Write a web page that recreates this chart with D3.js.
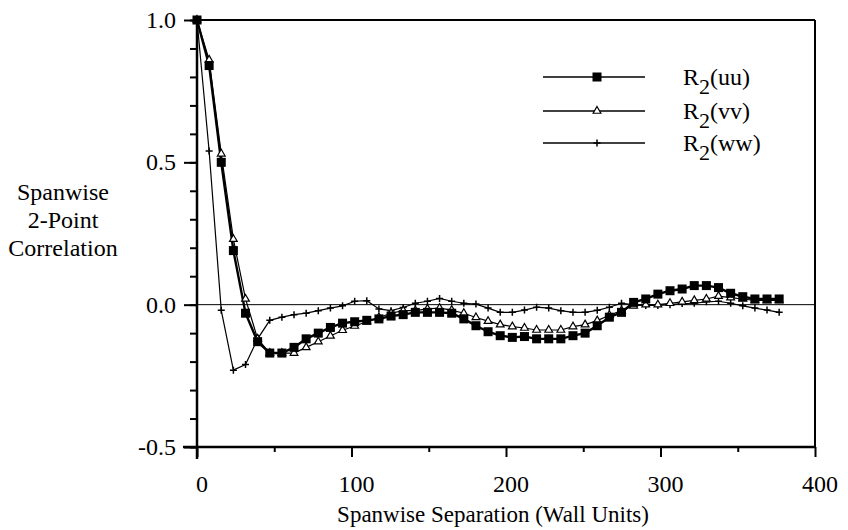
<!DOCTYPE html>
<html><head><meta charset="utf-8">
<script src="https://cdn.jsdelivr.net/npm/d3@7"></script>
</head><body style="margin:0">
<svg id="c" width="848" height="530" font-family="Liberation Serif"></svg>
<script>
const dz = 7.85;
const uu = [1.0,0.84,0.50,0.19,-0.03,-0.13,-0.17,-0.17,-0.15,-0.12,-0.10,-0.08,-0.065,-0.06,-0.055,-0.05,-0.04,-0.035,-0.027,-0.027,-0.027,-0.03,-0.05,-0.074,-0.095,-0.109,-0.115,-0.112,-0.12,-0.12,-0.12,-0.109,-0.10,-0.074,-0.044,-0.027,0.008,0.02,0.037,0.049,0.055,0.067,0.067,0.06,0.04,0.028,0.02,0.02,0.02];
const vv = [1.0,0.86,0.53,0.23,0.02,-0.12,-0.17,-0.17,-0.17,-0.15,-0.13,-0.11,-0.09,-0.075,-0.06,-0.045,-0.03,-0.021,-0.021,-0.015,-0.012,-0.019,-0.03,-0.045,-0.058,-0.07,-0.077,-0.082,-0.089,-0.089,-0.089,-0.077,-0.07,-0.056,-0.037,-0.021,-0.004,0.0,0.0,0.005,0.01,0.015,0.02,0.03,0.025,0.02,0.015,0.015,0.015];
const ww = [1.0,0.54,-0.02,-0.23,-0.21,-0.12,-0.055,-0.044,-0.035,-0.03,-0.021,-0.012,-0.004,0.012,0.014,-0.015,-0.021,-0.01,0.005,0.012,0.022,0.012,0.005,0.002,-0.012,-0.027,-0.027,-0.019,-0.009,-0.012,-0.021,-0.027,-0.027,-0.02,-0.009,0.005,0.0,-0.003,-0.003,0.0,0.004,0.005,0.01,0.012,0.005,-0.004,-0.012,-0.019,-0.027];
const xTicks = [0,100,200,300,400];
const yTicks = [-0.5,0.0,0.5,1.0];
const seriesNames = ["uu","vv","ww"];
const yLabelLines = ["Spanwise","2-Point","Correlation"];

const FONT = "Liberation Serif";
const svg = d3.select("#c");
const L=197,R=815,T=20,B=447;
const x = d3.scaleLinear().domain([0,400]).range([L,R]);
const y = d3.scaleLinear().domain([-0.5,1.0]).range([B,T]);

svg.append("line").attr("x1",L).attr("x2",R).attr("y1",T).attr("y2",T).attr("stroke","#000").attr("stroke-width",2);
svg.append("line").attr("x1",R).attr("x2",R).attr("y1",T).attr("y2",B).attr("stroke","#000").attr("stroke-width",2);
svg.append("line").attr("x1",L).attr("x2",R).attr("y1",y(0)).attr("y2",y(0)).attr("stroke","#000").attr("stroke-width",1);

// axes: ticks only (labels drawn as plain text below)
const ya = svg.append("g").attr("transform",`translate(${L},0)`)
  .call(d3.axisLeft(y).tickValues(d3.range(-5,11).map(d=>d/10)).tickSize(7).tickFormat(""));
ya.select(".domain").attr("stroke-width",2.5).attr("d",`M0,${T}V${B+12}`);
ya.selectAll(".tick line").attr("stroke-width",2);
const ya2 = svg.append("g").attr("transform",`translate(${L},0)`)
  .call(d3.axisLeft(y).tickValues(yTicks).tickSize(13).tickFormat(""));
ya2.select(".domain").remove();
ya2.selectAll(".tick line").attr("stroke-width",2);

const xa = svg.append("g").attr("transform",`translate(0,${B})`)
  .call(d3.axisBottom(x).tickValues(d3.range(50,400,100)).tickSize(5).tickFormat(""));
xa.select(".domain").attr("stroke-width",2.5).attr("d",`M${L-14},0H${R}`);
xa.selectAll(".tick line").attr("stroke-width",2);
const xa2 = svg.append("g").attr("transform",`translate(0,${B})`)
  .call(d3.axisBottom(x).tickValues(xTicks).tickSize(10).tickFormat(""));
xa2.select(".domain").remove();
xa2.selectAll(".tick line").attr("stroke-width",2);

const txt = svg.append("g");
yTicks.forEach(v=>{
  txt.append("text").attr("x",L-21).attr("y",y(v)+8).attr("text-anchor","end")
    .attr("font-family",FONT).attr("font-size",24).text(v.toFixed(1));
});
xTicks.forEach(v=>{
  txt.append("text").attr("x",x(v)+5).attr("y",B+45).attr("text-anchor","middle")
    .attr("font-family",FONT).attr("font-size",24).text(String(v));
});

txt.append("text").attr("x",493).attr("y",522).attr("text-anchor","middle").attr("font-family",FONT).attr("font-size",23).text("Spanwise Separation (Wall Units)");
yLabelLines.forEach((t,i)=>txt.append("text").attr("x",63).attr("y",200+i*28).attr("text-anchor","middle").attr("font-family",FONT).attr("font-size",24).text(t));

const data = {uu,vv,ww};
const line = d3.line().x((d,i)=>x(i*dz)).y(d=>y(d));
const widths = {uu:2.4,vv:1.2,ww:1.2};
const g = svg.append("g");
seriesNames.forEach(n=>{
  g.append("path").datum(data[n]).attr("d",line).attr("fill","none").attr("stroke","#000").attr("stroke-width",widths[n]);
});
function marker(sel,n,cx,cy){
  if(n==="uu") sel.append("rect").attr("x",cx-4.5).attr("y",cy-4.5).attr("width",9).attr("height",9).attr("fill","#000");
  else if(n==="vv") sel.append("path").attr("d",d3.symbol(d3.symbolTriangle,26)()).attr("transform",`translate(${cx},${cy})`).attr("fill","#fff").attr("stroke","#000").attr("stroke-width",1.2);
  else sel.append("path").attr("d",`M${cx-3.5},${cy}H${cx+3.5}M${cx},${cy-3.5}V${cy+3.5}`).attr("stroke","#000").attr("stroke-width",1.5);
}
["ww","vv","uu"].forEach(n=>{
  data[n].forEach((v,i)=>marker(g,n,x(i*dz),y(v)));
});

const legY=[77,111,143];
const lg = svg.append("g");
seriesNames.forEach((n,i)=>{
  lg.append("line").attr("x1",543).attr("x2",645).attr("y1",legY[i]).attr("y2",legY[i]).attr("stroke","#000").attr("stroke-width",1.6);
  marker(lg,n,597,legY[i]);
  const t = lg.append("text").attr("x",683).attr("y",legY[i]+8).attr("font-family",FONT).attr("font-size",24);
  t.append("tspan").text("R");
  t.append("tspan").attr("font-size",22).attr("dy",9).text("2");
  t.append("tspan").attr("dy",-9).text(`(${n})`);
});
</script></body></html>
